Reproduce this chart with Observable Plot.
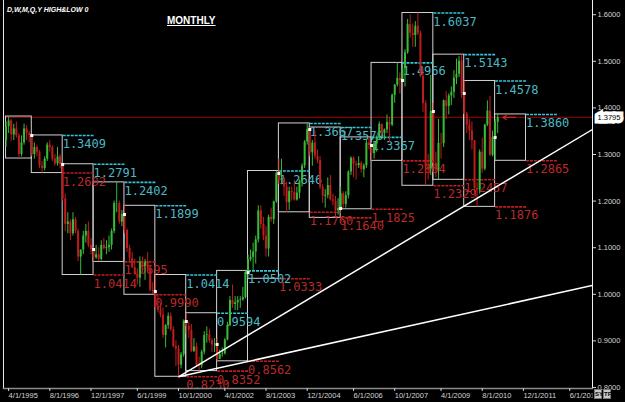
<!DOCTYPE html>
<html>
<head>
<meta charset="utf-8">
<script src="https://cdn.jsdelivr.net/npm/d3@7"></script>
<script src="https://cdn.jsdelivr.net/npm/@observablehq/plot@0.6"></script>
<style>
  html, body { margin: 0; padding: 0; background: #000; }
  #wrap { position: relative; width: 625px; height: 402px; overflow: hidden; background: #000; }
  #chart svg { display: block; }
  .title { position: absolute; left: 7px; top: 6px; color: #fff; font: italic bold 7px/7px "Liberation Sans", Arial, sans-serif; white-space: nowrap; }
  .tf { position: absolute; left: 167px; top: 16px; color: #fff; font: bold 10px/10px "Liberation Sans", Arial, sans-serif; text-decoration: underline; }
  .corner { position: absolute; left: 593px; top: 391px; width: 32px; height: 11px; background: #000; }
  .btn { position: absolute; top: -2px; width: 8px; height: 10px; background: #c8c8c8; color: #000; border: 1px solid #777; box-sizing: border-box; font: bold 6px/8px "Liberation Sans", Arial, sans-serif; text-align: center; }
</style>
</head>
<body>
<div id="wrap">
  <div id="chart"></div>
  <div class="title">D,W,M,Q,Y HIGH&amp;LOW 0</div>
  <div class="tf">MONTHLY</div>
  <div class="corner"><span class="btn" style="left:1px">SY</span><span class="btn" style="left:10px">TF</span></div>
</div>
<script>
// ---- Monthly EUR/USD bars, first bar March 1995 (open of each bar = previous close)
const firstMonth = "3/1/1995";
const firstOpen = 1.3300;

const highs = [
  /*1995*/ 1.3700,1.3815,1.3750,1.3650,1.3700,1.3450,1.3400,1.3650,1.3620,1.3500,
  /*1996*/ 1.3409,1.3250,1.3200,1.3080,1.2850,1.2950,1.3250,1.3300,1.3180,1.3000,1.3150,1.3000,
  /*1997*/ 1.2791,1.2150,1.1750,1.1600,1.1750,1.1650,1.1400,1.0950,1.1350,1.1500,1.1550,1.1200,
  /*1998*/ 1.1000,1.1050,1.1000,1.1150,1.1200,1.1150,1.1250,1.1400,1.2000,1.2402,1.2000,1.1800,
  /*1999*/ 1.1899,1.1400,1.1050,1.0900,1.0750,1.0550,1.0800,1.0800,1.0750,1.0900,1.0600,1.0250,
  /*2000*/ 1.0414,1.0000,0.9800,0.9700,0.9350,0.9600,0.9600,0.9300,0.9000,0.8900,0.8750,0.9450,
  /*2001*/ 0.9594,0.9400,0.9350,0.9050,0.8950,0.8650,0.8800,0.9200,0.9300,0.9250,0.9050,0.9050,
  /*2002*/ 0.9050,0.8800,0.8850,0.9050,0.9400,0.9950,1.0200,0.9950,0.9950,0.9950,1.0150,1.0502,
  /*2003*/ 1.0850,1.0950,1.1100,1.1250,1.1900,1.1900,1.1650,1.1450,1.1700,1.1850,1.2000,1.2646,
  /*2004*/ 1.2900,1.2900,1.2500,1.2400,1.2300,1.2300,1.2450,1.2300,1.2450,1.2800,1.3300,1.3667,
  /*2005*/ 1.3579,1.3300,1.3500,1.3100,1.2950,1.2350,1.2250,1.2500,1.2550,1.2150,1.2100,1.2050,
  /*2006*/ 1.2300,1.2200,1.2200,1.2650,1.2950,1.2950,1.2850,1.2950,1.2850,1.2800,1.3300,1.3367,
  /*2007*/ 1.3250,1.3250,1.3400,1.3700,1.3650,1.3550,1.3850,1.3800,1.4300,1.4500,1.4966,1.4750,
  /*2008*/ 1.4900,1.5250,1.5900,1.6000,1.5800,1.5850,1.6037,1.5650,1.4850,1.4150,1.3000,1.4700,
  /*2009*/ 1.4100,1.3050,1.3750,1.3450,1.4170,1.4350,1.4300,1.4450,1.4800,1.5050,1.5100,1.5143,
  /*2010*/ 1.4578,1.3900,1.3750,1.3700,1.3300,1.2400,1.3100,1.3350,1.3650,1.4150,1.4250,1.3500,
  /*2011*/ 1.3750,1.3860
];

const lows = [
  /*1995*/ 1.3150,1.3450,1.3280,1.3300,1.3350,1.2914,1.2950,1.3200,1.3300,1.3250,
  /*1996*/ 1.2950,1.2900,1.2950,1.2700,1.2602,1.2650,1.2850,1.3050,1.2850,1.2750,1.2750,1.2700,
  /*1997*/ 1.2000,1.1350,1.1300,1.1150,1.1250,1.1300,1.0700,1.0414,1.0850,1.1100,1.1000,1.0850,
  /*1998*/ 1.0695,1.0750,1.0700,1.0720,1.0950,1.0850,1.0900,1.0950,1.1300,1.1750,1.1500,1.1450,
  /*1999*/ 1.1300,1.0900,1.0700,1.0550,1.0400,1.0200,1.0150,1.0450,1.0300,1.0500,1.0050,0.9990,
  /*2000*/ 0.9700,0.9600,0.9500,0.9050,0.8850,0.9250,0.9200,0.8850,0.8450,0.8230,0.8400,0.8650,
  /*2001*/ 0.9150,0.9050,0.8750,0.8750,0.8450,0.8352,0.8400,0.8700,0.8950,0.8950,0.8750,0.8750,
  /*2002*/ 0.8562,0.8600,0.8650,0.8700,0.9000,0.9300,0.9700,0.9650,0.9650,0.9700,0.9850,0.9900,
  /*2003*/ 1.0333,1.0700,1.0500,1.0650,1.1100,1.1400,1.1150,1.0800,1.0800,1.1550,1.1500,1.1950,
  /*2004*/ 1.2350,1.2350,1.2100,1.1760,1.1800,1.2000,1.2000,1.2000,1.2050,1.2300,1.2700,1.3200,
  /*2005*/ 1.2950,1.2750,1.2900,1.2800,1.2250,1.1950,1.1850,1.2050,1.2000,1.1900,1.1640,1.1700,
  /*2006*/ 1.1825,1.1850,1.1850,1.2050,1.2550,1.2500,1.2450,1.2700,1.2600,1.2500,1.2700,1.3100,
  /*2007*/ 1.2864,1.2900,1.3050,1.3300,1.3400,1.3300,1.3450,1.3250,1.3600,1.4100,1.4450,1.4300,
  /*2008*/ 1.4550,1.4450,1.5150,1.5500,1.5300,1.5300,1.5550,1.4650,1.3900,1.2329,1.2450,1.2550,
  /*2009*/ 1.2750,1.2500,1.2457,1.2900,1.3150,1.3750,1.3850,1.4050,1.4200,1.4500,1.4650,1.4200,
  /*2010*/ 1.3850,1.3450,1.3300,1.3100,1.2150,1.1876,1.2150,1.2600,1.2650,1.3600,1.2950,1.2950,
  /*2011*/ 1.2865,1.3450
];

const closes = [
  /*1995*/ 1.3600,1.3720,1.3420,1.3550,1.3400,1.3000,1.3250,1.3550,1.3450,1.3408,
  /*1996*/ 1.3000,1.3150,1.3050,1.2750,1.2700,1.2900,1.3200,1.3150,1.2900,1.2800,1.2950,1.2785,
  /*1997*/ 1.2050,1.1500,1.1550,1.1300,1.1600,1.1350,1.0800,1.0950,1.1250,1.1350,1.1050,1.0961,
  /*1998*/ 1.0780,1.0850,1.0750,1.1050,1.0980,1.1000,1.1050,1.1350,1.1950,1.1950,1.1550,1.1712,
  /*1999*/ 1.1371,1.0982,1.0773,1.0576,1.0422,1.0347,1.0690,1.0594,1.0681,1.0567,1.0086,1.0060,
  /*2000*/ 0.9717,0.9658,0.9554,0.9117,0.9327,0.9529,0.9241,0.8875,0.8827,0.8481,0.8703,0.9416,
  /*2001*/ 0.9312,0.9226,0.8777,0.8869,0.8478,0.8466,0.8760,0.9117,0.9130,0.9003,0.8917,0.8923,
  /*2002*/ 0.8600,0.8706,0.8720,0.9018,0.9329,0.9866,0.9781,0.9815,0.9867,0.9883,0.9932,1.0468,
  /*2003*/ 1.0743,1.0792,1.0910,1.1169,1.1788,1.1499,1.1249,1.0971,1.1653,1.1602,1.1985,1.2592,
  /*2004*/ 1.2447,1.2480,1.2303,1.1966,1.2205,1.2185,1.2023,1.2171,1.2429,1.2754,1.3269,1.3536,
  /*2005*/ 1.3035,1.3245,1.2962,1.2868,1.2298,1.2105,1.2126,1.2335,1.2025,1.1996,1.1791,1.1841,
  /*2006*/ 1.2157,1.1926,1.2118,1.2623,1.2920,1.2790,1.2760,1.2807,1.2673,1.2755,1.3246,1.3193,
  /*2007*/ 1.3020,1.3227,1.3356,1.3648,1.3454,1.3528,1.3686,1.3631,1.4268,1.4488,1.4630,1.4588,
  /*2008*/ 1.4841,1.5184,1.5786,1.5601,1.5553,1.5753,1.5600,1.4672,1.4093,1.2733,1.2685,1.3923,
  /*2009*/ 1.2803,1.2667,1.3239,1.3232,1.4153,1.4030,1.4255,1.4336,1.4640,1.4719,1.5004,1.4309,
  /*2010*/ 1.3865,1.3628,1.3510,1.3294,1.2272,1.2235,1.3049,1.2688,1.3630,1.3932,1.2985,1.3365,
  /*2011*/ 1.3690,1.3795
];

const currentPrice = 1.3795;
const priceTicks = [0.8, 0.9, 1.0, 1.1, 1.2, 1.3, 1.4, 1.5, 1.6];
const tickLabels = ["4/1/1995","8/1/1996","12/1/1997","6/1/1999","10/1/2000","4/1/2002","8/1/2003",
                    "12/1/2004","6/1/2006","10/1/2007","4/1/2009","8/1/2010","12/1/2011","6/1/2013"];

// trendlines: both start at the Oct 2000 low
const trendAnchor = {date: "10/1/2000", value: 0.8230};
const trendTargets = [{date: "3/1/2014", value: 1.3543}, {date: "3/1/2014", value: 1.0191}];

// current-price arrow (red, pointing left toward the last bar)
const priceArrow = [{from: "9/1/2011", to: "4/1/2011", value: 1.3795}];

// ---- helpers
const baseYear = 1995;
function monthIndex(s) { const [mo, , y] = s.split("/").map(Number); return (y - baseYear) * 12 + (mo - 1); }

const m0 = monthIndex(firstMonth);
const bars = closes.map((c, i) => {
  const m = m0 + i;
  return {m, year: baseYear + Math.floor(m / 12), open: i ? closes[i - 1] : firstOpen, high: highs[i], low: lows[i], close: c};
});

const yearly = d3.groups(bars, d => d.year).map(([year, bs]) => {
  const ys = (year - baseYear) * 12;
  return {year, start: bs[0].m, end: ys + 12, high: d3.max(bs, d => d.high), low: d3.min(bs, d => d.low),
          open: bs[0].open, full: bs[0].m === ys};
});
const labelled = yearly.filter(d => d.full);
const hiLabels = labelled.map(d => ({x1: d.end, x2: d.end + 12, v: d.high, t: d.high.toFixed(4)}));
const loLabels = labelled.map(d => ({x1: d.end, x2: d.end + 12, v: d.low, t: d.low.toFixed(4)}));

const tickMs = tickLabels.map(monthIndex);

const GREEN = "#38bc38", RED = "#c01c1c";
const CYAN_T = "#4db8c4", CYAN_L = "#33c6da", RED_T = "#b82a2a", RED_L = "#c21c1c";
const lblFont = "DejaVu Sans Mono, monospace";

const chart = Plot.plot({
  width: 625, height: 402,
  marginLeft: 3, marginRight: 33, marginTop: 0, marginBottom: 14,
  style: {background: "#000", color: "#d4d4d4", fontFamily: "Liberation Sans, Arial, sans-serif", fontSize: "7.5px"},
  x: {type: "linear", domain: [1.01, 229.84]},
  y: {type: "linear", domain: [0.79785, 1.6305]},
  marks: [
    Plot.ruleY([currentPrice], {stroke: "#800000", strokeWidth: 1.3}),
    Plot.rect(yearly, {x1: "start", x2: "end", y1: "low", y2: "high", fill: "none", stroke: "#d2d2d2", strokeWidth: 1, clip: true}),
    Plot.link(hiLabels, {x1: "x1", x2: "x2", y1: "v", y2: "v", stroke: CYAN_L, strokeWidth: 1.6, strokeDasharray: "3,1", clip: true}),
    Plot.link(loLabels, {x1: "x1", x2: "x2", y1: "v", y2: "v", stroke: RED_L, strokeWidth: 1.6, strokeDasharray: "3,1", clip: true}),
    Plot.text(hiLabels, {x: "x1", y: "v", text: "t", textAnchor: "start", lineAnchor: "top", dy: 4, dx: 0, fill: CYAN_T, fontFamily: lblFont, fontSize: 12}),
    Plot.text(loLabels, {x: "x1", y: "v", text: "t", textAnchor: "start", lineAnchor: "top", dy: 4, dx: 0, fill: RED_T, fontFamily: lblFont, fontSize: 12}),
    Plot.ruleX(bars, {x: "m", y1: "low", y2: "high", stroke: d => d.close >= d.open ? GREEN : RED, strokeWidth: 1, clip: true}),
    Plot.ruleX(bars, {x: "m", y1: "open", y2: "close", stroke: d => d.close >= d.open ? GREEN : RED, strokeWidth: 2, clip: true}),
    Plot.arrow(priceArrow, {x1: d => monthIndex(d.from), x2: d => monthIndex(d.to), y1: "value", y2: "value",
                            stroke: "#e02020", strokeWidth: 1.2, headLength: 5, clip: true}),
    Plot.link(trendTargets, {x1: () => monthIndex(trendAnchor.date), y1: () => trendAnchor.value,
                             x2: d => monthIndex(d.date), y2: "value", stroke: "#fff", strokeWidth: 1.5, clip: true}),
    Plot.dot(labelled, {x: "start", y: "open", symbol: "square", r: 1.7, fill: "#fff", stroke: "none"}),
    Plot.frame({anchor: "left", stroke: "#e8e8e8"}),
    Plot.frame({anchor: "right", stroke: "#f0f0f0"}),
    Plot.frame({anchor: "bottom", stroke: "#8a8a8a", strokeWidth: 1.5}),
    Plot.axisY({anchor: "right", ticks: priceTicks, tickFormat: d => d.toFixed(4), tickSize: 3, tickPadding: 2, label: null}),
    Plot.axisX({anchor: "bottom", ticks: tickMs, tickFormat: m => tickLabels[tickMs.indexOf(m)], tickSize: 3, tickPadding: 1, textAnchor: "start", label: null}),
    Plot.text([currentPrice], {y: d => d, frameAnchor: "right", text: d => d.toFixed(4), textAnchor: "start", dx: 5,
                               fill: "#000", stroke: "#fff", strokeWidth: 7, strokeLinejoin: "miter", fontSize: 7.5})
  ]
});

// clip the x tick labels at the right-hand price axis, as in the terminal window
const svg = d3.select(chart.tagName === "svg" ? chart : chart.querySelector("svg"));
svg.append("defs").append("clipPath").attr("id", "xlabclip")
  .append("rect").attr("x", 0).attr("y", 0).attr("width", 592).attr("height", 402);
svg.selectAll('g[aria-label="x-axis tick label"]').attr("clip-path", "url(#xlabclip)");

document.getElementById("chart").appendChild(chart);
</script>
</body>
</html>
